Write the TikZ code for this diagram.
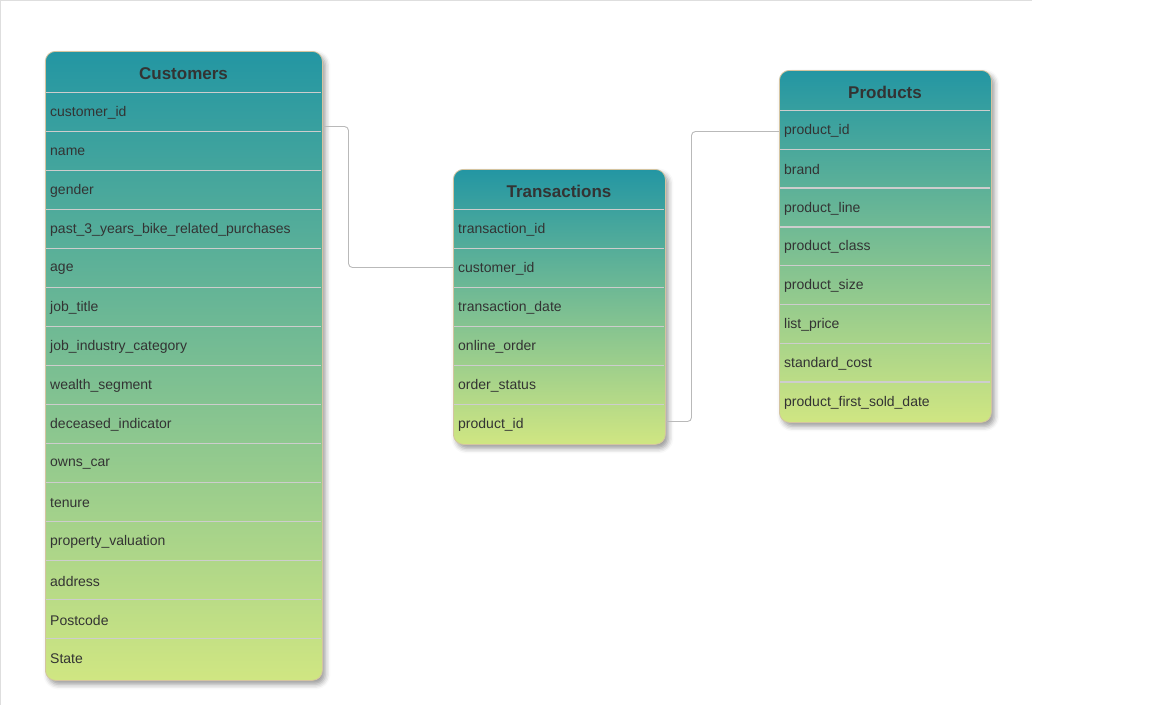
\documentclass[tikz,border=0pt]{standalone}
\usepackage{fontspec}
\setmainfont{Liberation Sans}
\usetikzlibrary{shadows.blur,calc}
\definecolor{gtop}{RGB}{35,150,163}
\definecolor{gbot}{RGB}{208,230,130}
\definecolor{txt}{RGB}{51,51,51}
\definecolor{sepc}{RGB}{205,205,205}
\definecolor{edgec}{RGB}{212,196,160}
\definecolor{linkc}{RGB}{185,185,185}
\definecolor{framec}{RGB}{222,222,222}
\tikzset{
  tablebox/.style={rounded corners=10pt, draw=edgec, line width=0.8pt,
    top color=gtop, bottom color=gbot, inner sep=0pt, anchor=north west,
    blur shadow={shadow xshift=3pt, shadow yshift=-4pt, shadow blur radius=5pt, shadow opacity=40}},
  headtext/.style={text=txt, font=\fontsize{17}{20}\selectfont\bfseries, inner sep=0pt},
  rowtext/.style={text=txt, font=\fontsize{14}{16}\selectfont, inner sep=0pt, anchor=west},
  sepline/.style={draw=sepc, line width=1.3pt},
  link/.style={draw=linkc, line width=0.9pt, rounded corners=4pt},
  frameline/.style={draw=framec, line width=1pt}
}
\begin{document}
\begin{tikzpicture}[x=1pt,y=-1pt]
\useasboundingbox (0,0) rectangle (1149,705);
\draw[frameline] (0,0.5) -- (1032,0.5);
\draw[frameline] (0.5,0) -- (0.5,705);

% Customers
\node[tablebox, minimum width=277pt, minimum height=629pt] (cust) at (45,51) {};
\node[headtext] (custh) at (183.5,73.5) {Customers};
\foreach \k in {0,...,14} \draw[sepline] (45.6,92.5+39*\k) -- (321.4,92.5+39*\k);
\foreach [count=\i] \t in {customer\_id,name,gender,past\_3\_years\_bike\_related\_purchases,age,job\_title,job\_industry\_category,wealth\_segment,deceased\_indicator,owns\_car,tenure,property\_valuation,address,Postcode,State}
  \node[rowtext] (c\i) at (50,92+39*\i-18) {\t};

% Transactions
\node[tablebox, minimum width=212pt, minimum height=275pt] (trans) at (453,169) {};
\node[headtext] (transh) at (559,191.5) {Transactions};
\foreach \k in {0,...,5} \draw[sepline] (453.6,209.5+39*\k) -- (664.4,209.5+39*\k);
\foreach [count=\i] \t in {transaction\_id,customer\_id,transaction\_date,online\_order,order\_status,product\_id}
  \node[rowtext] (t\i) at (458,209+39*\i-18) {\t};

% Products
\node[tablebox, minimum width=212pt, minimum height=352pt] (prod) at (779,70) {};
\node[headtext] (prodh) at (885,92.5) {Products};
\foreach \k in {0,...,7} \draw[sepline] (779.6,110.5+38.8*\k) -- (990.4,110.5+38.8*\k);
\foreach [count=\i] \t in {product\_id,brand,product\_line,product\_class,product\_size,list\_price,standard\_cost,product\_first\_sold\_date}
  \node[rowtext] (p\i) at (784,110+38.8*\i-18) {\t};

% connectors
\coordinate (l1s) at (cust.east |- 0,126.5);
\coordinate (l1e) at (trans.west |- 0,267.5);
\draw[link] (l1s) -- (348.5,126.5) -- (348.5,267.5) -- (l1e);
\coordinate (l2s) at (trans.east |- 0,421.5);
\coordinate (l2e) at (prod.west |- 0,131.5);
\draw[link] (l2s) -- (691.5,421.5) -- (691.5,131.5) -- (l2e);
\end{tikzpicture}
\end{document}
